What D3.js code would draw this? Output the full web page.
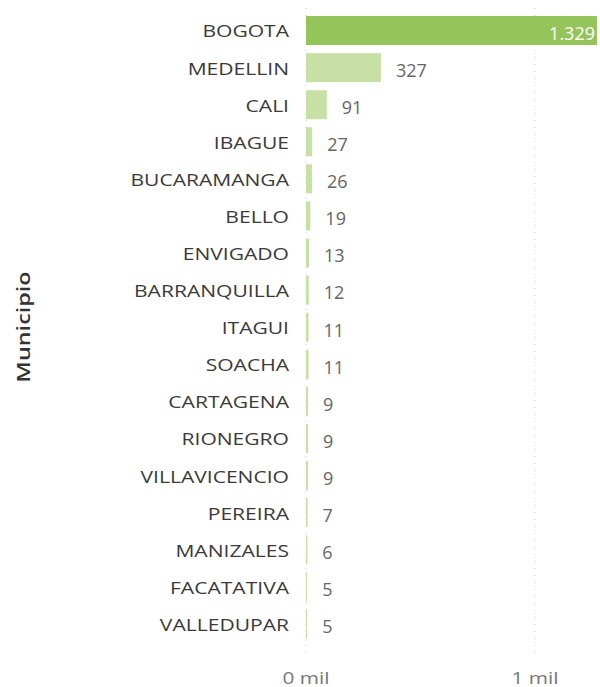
<!DOCTYPE html>
<html>
<head>
<meta charset="utf-8">
<script src="https://cdn.jsdelivr.net/npm/d3@7/dist/d3.min.js"></script>
<style>
  body { margin: 0; background: #fff; }
  svg text { font-family: "Open Sans", "Noto Sans", sans-serif; }
</style>
</head>
<body>
<div id="chart"></div>
<script>
// data
const municipios = ["BOGOTA", "MEDELLIN", "CALI", "IBAGUE", "BUCARAMANGA", "BELLO", "ENVIGADO",
    "BARRANQUILLA", "ITAGUI", "SOACHA", "CARTAGENA", "RIONEGRO", "VILLAVICENCIO", "PEREIRA",
    "MANIZALES", "FACATATIVA", "VALLEDUPAR"];
const casos = [1329, 327, 91, 27, 26, 19, 13, 12, 11, 11, 9, 9, 9, 7, 6, 5, 5];
const xTicks = [0, 1000];

const width = 600, height = 687;

const svg = d3.select("#chart").append("svg")
    .attr("width", width)
    .attr("height", height);

// x: 0 sits at 306, 1 mil at 535 (bogota runs off the right edge)
const x = d3.scaleLinear().domain([0, 1000]).range([306, 535]);
const y = d3.scaleBand().domain(municipios).range([12, 642.5]).paddingInner(0.218).paddingOuter(0.109);

svg.append("clipPath").attr("id", "plotClip")
    .append("rect").attr("x", 0).attr("y", 0).attr("width", 597).attr("height", height);

// dotted gridlines
svg.append("g")
    .selectAll("line")
    .data(xTicks)
    .join("line")
    .attr("x1", d => x(d)).attr("x2", d => x(d))
    .attr("y1", 8).attr("y2", 656)
    .attr("stroke", "#c8c8c8")
    .attr("stroke-width", 1)
    .attr("stroke-dasharray", "1,6");

// bars
svg.append("g")
    .attr("clip-path", "url(#plotClip)")
    .selectAll("rect")
    .data(municipios)
    .join("rect")
    .attr("x", x(0))
    .attr("y", d => y(d))
    .attr("height", y.bandwidth())
    .attr("width", (d, i) => x(casos[i]) - x(0))
    .attr("fill", (d, i) => i === 0 ? "#94c45a" : "#c6e0a6");

// the reference font is wide, so stretch labels along the reading direction
const SX = 1.24;

// category labels
svg.append("g")
    .selectAll("text")
    .data(municipios)
    .join("text")
    .attr("transform", d => `translate(289,${y(d) + y.bandwidth() / 2 + 1}) scale(${SX},1)`)
    .attr("dy", "0.35em")
    .attr("text-anchor", "end")
    .attr("fill", "#3a3a3a")
    .attr("font-size", 17)
    .text(d => d);

const fmt = v => v >= 1000 ? d3.format(",")(v).replace(/,/g, ".") : String(v);

// value labels
svg.append("g")
    .selectAll("text")
    .data(municipios)
    .join("text")
    .attr("x", (d, i) => i === 0 ? 595 : x(casos[i]) + 15)
    .attr("y", d => y(d) + y.bandwidth() / 2 + 3)
    .attr("dy", "0.35em")
    .attr("text-anchor", (d, i) => i === 0 ? "end" : "start")
    .attr("fill", (d, i) => i === 0 ? "#fff" : "#666")
    .attr("font-size", 18)
    .text((d, i) => fmt(casos[i]));

// x axis tick labels
svg.append("g")
    .selectAll("text")
    .data(xTicks)
    .join("text")
    .attr("transform", d => `translate(${x(d)},678) scale(1.3,1)`)
    .attr("dy", "0.35em")
    .attr("text-anchor", "middle")
    .attr("fill", "#777")
    .attr("font-size", 16)
    .text(d => (d / 1000) + " mil");

// axis title
svg.append("text")
    .attr("transform", "translate(24,327) rotate(-90) scale(1.3,1)")
    .attr("dy", "0.35em")
    .attr("text-anchor", "middle")
    .attr("fill", "#333")
    .attr("font-size", 18)
    .attr("font-weight", 600)
    .text("Municipio");
</script>
</body>
</html>
